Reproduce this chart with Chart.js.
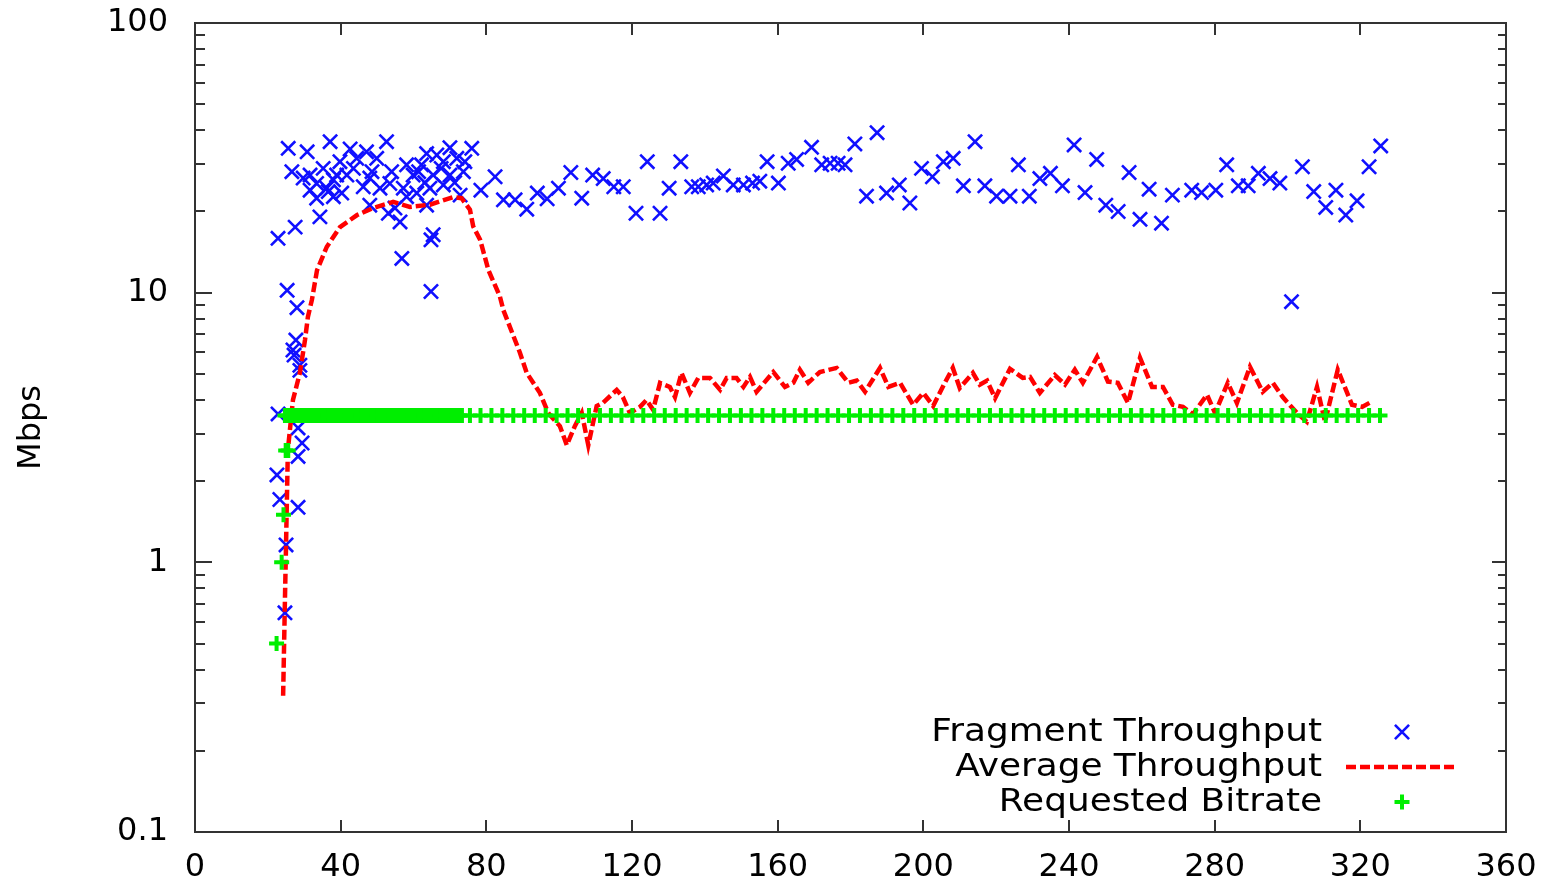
<!DOCTYPE html>
<html>
<head>
<meta charset="utf-8">
<script src="https://cdn.jsdelivr.net/npm/chart.js@4.4.1/dist/chart.umd.min.js"></script>
<style>
html,body{margin:0;padding:0;background:#fff;}
#wrap{width:1559px;height:882px;position:relative;}
</style>
</head>
<body>
<div id="wrap"><canvas id="c"></canvas></div>
<script>
// ---- Series labels ----
const seriesLabels = ['Fragment Throughput', 'Average Throughput', 'Requested Bitrate'];
const yAxisTitle = 'Mbps';

// ---- Fragment Throughput (time s, Mbps) ----
const fragTimes = [
  22.5, 22.8, 22.8, 23.3, 24.7, 25.0, 25.3, 25.6, 26.6, 26.9, 27.2, 27.5, 27.7, 28.0, 28.3, 28.3, 28.3, 28.8, 28.8, 29.4,
  29.7, 30.8, 31.6, 31.6, 33.4, 33.4, 34.3, 35.2, 36.2, 36.6, 37.1, 38.0, 38.0, 38.9, 39.8, 40.3, 41.7, 42.6, 43.5, 44.4,
  46.2, 47.1, 48.0, 48.6, 48.0, 49.9, 50.8, 52.6, 53.1, 53.5, 54.0, 54.9, 56.3, 56.8, 57.2, 58.1, 58.1, 59.9, 60.9, 61.4,
  62.2, 63.6, 63.6, 63.1, 64.5, 64.8, 64.8, 65.4, 65.4, 66.4, 68.2, 68.2, 67.6, 70.0, 70.0, 71.9, 71.3, 72.8, 73.7, 74.1, 76.0,
  78.5, 82.4, 84.7, 87.9, 91.1, 94.0, 96.7, 99.8, 103.2, 106.2, 109.2, 112.1, 115.0, 117.6, 121.1, 124.2, 127.7, 130.2,
  133.4, 136.4, 138.2, 140.5, 142.3, 145.1, 147.8, 150.6, 153.1, 155.1, 157.1, 160.2, 162.9, 165.2, 169.3, 172.1, 174.4,
  176.6, 178.5, 181.2, 184.4, 187.3, 189.9, 193.4, 196.3, 199.5, 202.5, 205.5, 208.2, 211.0, 214.2, 216.9, 220.1, 223.8,
  226.1, 229.1, 232.0, 234.9, 238.2, 241.4, 244.4, 247.6, 250.1, 253.5, 256.5, 259.5, 262.0, 265.4, 268.4, 273.7, 276.4,
  280.3, 283.3, 286.5, 289.2, 292.0, 295.2, 297.9, 301.1, 304.1, 307.2, 310.5, 313.3, 316.0, 319.1, 322.4, 325.6
];
const fragMbps = [
  2.11, 3.55, 15.9, 1.71, 0.65, 1.16, 10.2, 34.3, 28.1, 6.13, 5.87, 17.5, 6.67, 8.8, 3.15, 2.47, 1.6, 5.38, 5.15, 2.77,
  26.6, 33.3, 24.0, 27.3, 25.4, 22.4, 19.1, 28.9, 24.4, 23.7, 36.3, 26.2, 22.7, 27.3, 30.6, 23.4, 27.3, 34.1, 28.9, 31.5,
  24.7, 33.3, 26.6, 28.1, 21.1, 31.5, 24.4, 36.3, 19.7, 25.4, 28.1, 20.6, 18.3, 13.4, 24.4, 29.8, 22.7, 27.3, 23.4, 28.1,
  29.8, 32.8, 21.1, 25.6, 24.4, 15.7, 10.1, 27.3, 16.4, 32.4, 30.6, 25.1, 28.9, 34.5, 27.3, 31.5, 25.6, 23.0, 28.1, 30.6, 34.3,
  24.0, 26.9, 22.1, 22.1, 20.4, 23.4, 22.3, 24.4, 27.9, 22.4, 27.3, 26.5, 24.7, 24.7, 19.7, 30.6, 19.7, 24.4,
  30.6, 24.7, 24.7, 25.1, 25.5, 27.1, 25.1, 25.1, 25.5, 25.9, 30.6, 25.5, 30.2, 31.2, 34.6, 29.8, 30.2,
  30.2, 29.8, 35.6, 22.8, 39.2, 23.4, 25.1, 21.5, 28.9, 26.9, 30.6, 31.5, 24.9, 36.3, 24.9, 22.8, 22.8,
  29.8, 22.8, 26.5, 27.7, 24.9, 35.3, 23.5, 31.2, 21.1, 20.0, 27.9, 18.7, 24.2, 18.1, 23.0, 24.0, 23.5,
  24.0, 29.8, 24.9, 24.9, 27.7, 26.5, 25.5, 9.26, 29.3, 23.7, 20.7, 24.0, 19.4, 21.9, 29.3, 35.0
];

// ---- Average Throughput (time s, Mbps) ----
const avgTimes = [
  24.2, 24.7, 25.0, 25.5, 26.9, 28.8, 30.2, 31.0, 32.1, 33.5, 36.2, 39.8, 44.5, 48.9, 54.4, 59.0, 64.5, 70.8, 73.2, 75.5,
  76.4, 78.3, 80.6, 83.7, 84.7, 89.2, 91.1, 94.7, 97.0, 100.2, 102.1, 104.3, 106.2, 108.0, 110.3, 112.0, 115.8, 117.5,
  119.4, 122.2, 124.0, 125.8, 127.7, 130.4, 131.8, 133.6, 135.9, 138.2, 141.4, 144.2, 146.0, 148.7, 150.6, 152.4, 154.2,
  158.8, 162.0, 164.3, 166.1, 168.4, 171.6, 176.2, 179.4, 181.7, 184.0, 188.1, 190.4, 193.6, 197.2, 200.0, 202.7, 205.9,
  208.1, 210.0, 213.6, 215.5, 217.5, 219.7, 223.8, 227.3, 229.3, 232.0, 236.1, 238.9, 241.6, 243.8, 247.7, 250.7, 253.4,
  256.2, 259.5, 262.8, 265.8, 268.5, 271.3, 274.0, 277.9, 280.1, 283.6, 286.1, 289.7, 293.2, 296.0, 298.7, 302.6, 305.3,
  308.1, 310.3, 313.8, 317.7, 320.5, 323.2
];
const avgMbps = [
  0.32, 0.73, 1.16, 2.61, 4.0, 5.04, 6.67, 8.13, 9.4, 12.1, 14.8, 17.5, 19.4, 20.6, 21.7, 20.8, 21.2, 22.6, 22.4, 20.3,
  17.6, 15.7, 12.1, 9.7, 8.6, 6.0, 5.04, 4.25, 3.58, 3.2, 2.72, 3.2, 3.58, 2.72, 3.8, 3.9, 4.36, 4.1,
  3.58, 3.77, 4.0, 3.68, 4.63, 4.47, 4.1, 5.04, 4.25, 4.83, 4.83, 4.36, 4.83, 4.83, 4.47, 4.87, 4.29,
  5.08, 4.47, 4.63, 5.18, 4.63, 5.08, 5.26, 4.63, 4.72, 4.29, 5.26, 4.47, 4.63, 3.84, 4.25, 3.8, 4.63,
  5.26, 4.43, 5.04, 4.56, 4.72, 4.06, 5.22, 4.83, 4.87, 4.25, 4.95, 4.56, 5.18, 4.63, 5.78, 4.68, 4.63,
  3.9, 5.74, 4.47, 4.47, 3.84, 3.77, 3.54, 4.18, 3.58, 4.63, 3.9, 5.31, 4.29, 4.63, 4.1, 3.58, 3.32,
  4.47, 3.32, 5.18, 3.84, 3.77, 3.95
];

// ---- Requested Bitrate (time s, Mbps) ----
const rateTimes = [
  22.4, 23.8, 24.3, 24.9, 25.6,
  24.7, 25.4, 26.1, 26.9, 27.6, 28.4, 29.1, 29.9, 30.6, 31.4, 32.1, 32.9, 33.6, 34.4, 35.1, 35.9, 36.6, 37.4, 38.1, 38.9,
  39.6, 40.4, 41.1, 41.9, 42.6, 43.4, 44.1, 44.9, 45.6, 46.4, 47.1, 47.9, 48.6, 49.4, 50.1, 50.9, 51.6, 52.4, 53.1, 53.9,
  54.6, 55.4, 56.1, 56.9, 57.6, 58.4, 59.1, 59.9, 60.6, 61.4, 62.1, 62.9, 63.6, 64.4, 65.1, 65.9, 66.6, 67.4, 68.1, 68.9,
  69.6, 70.4, 71.1, 71.9, 72.6, 73.3,
  75.5, 78.4, 81.4, 84.4, 87.4, 90.4, 93.3, 96.3, 99.3, 102.3, 105.2, 108.2, 111.2, 114.2, 117.1, 120.1, 123.1, 126.1,
  129.0, 132.0, 135.0, 138.0, 140.9, 143.9, 146.9, 149.9, 152.8, 155.8, 158.8, 161.8, 164.7, 167.7, 170.7, 173.7, 176.6,
  179.6, 182.6, 185.6, 188.5, 191.5, 194.5, 197.5, 200.4, 203.4, 206.4, 209.4, 212.3, 215.3, 218.3, 221.3, 224.2, 227.2,
  230.2, 233.2, 236.1, 239.1, 242.1, 245.1, 248.0, 251.0, 254.0, 257.0, 259.9, 262.9, 265.9, 268.9, 271.8, 274.8, 277.8,
  280.8, 283.7, 286.7, 289.7, 292.7, 295.6, 298.6, 301.6, 304.6, 307.5, 310.5, 313.5, 316.5, 319.4, 322.4, 325.4
];
const rateMbps = [
  0.5, 1.0, 1.5, 2.6, 2.6,
  3.5, 3.5, 3.5, 3.5, 3.5, 3.5, 3.5, 3.5, 3.5, 3.5, 3.5, 3.5, 3.5, 3.5, 3.5, 3.5, 3.5, 3.5, 3.5, 3.5,
  3.5, 3.5, 3.5, 3.5, 3.5, 3.5, 3.5, 3.5, 3.5, 3.5, 3.5, 3.5, 3.5, 3.5, 3.5, 3.5, 3.5, 3.5, 3.5, 3.5,
  3.5, 3.5, 3.5, 3.5, 3.5, 3.5, 3.5, 3.5, 3.5, 3.5, 3.5, 3.5, 3.5, 3.5, 3.5, 3.5, 3.5, 3.5, 3.5, 3.5,
  3.5, 3.5, 3.5, 3.5, 3.5, 3.5,
  3.5, 3.5, 3.5, 3.5, 3.5, 3.5, 3.5, 3.5, 3.5, 3.5, 3.5, 3.5, 3.5, 3.5, 3.5, 3.5, 3.5, 3.5,
  3.5, 3.5, 3.5, 3.5, 3.5, 3.5, 3.5, 3.5, 3.5, 3.5, 3.5, 3.5, 3.5, 3.5, 3.5, 3.5, 3.5,
  3.5, 3.5, 3.5, 3.5, 3.5, 3.5, 3.5, 3.5, 3.5, 3.5, 3.5, 3.5, 3.5, 3.5, 3.5, 3.5, 3.5,
  3.5, 3.5, 3.5, 3.5, 3.5, 3.5, 3.5, 3.5, 3.5, 3.5, 3.5, 3.5, 3.5, 3.5, 3.5, 3.5, 3.5,
  3.5, 3.5, 3.5, 3.5, 3.5, 3.5, 3.5, 3.5, 3.5, 3.5, 3.5, 3.5, 3.5, 3.5, 3.5, 3.5
];

// ---- Axis ticks ----
const xTickValues = [0, 40, 80, 120, 160, 200, 240, 280, 320, 360];
const yTickValues = [0.1, 1, 10, 100];
const yTickLabels = ['0.1', '1', '10', '100'];
const yMinorTickValues = [0.2, 0.3, 0.4, 0.5, 0.6, 0.7, 0.8, 0.9, 2, 3, 4, 5, 6, 7, 8, 9, 20, 30, 40, 50, 60, 70, 80, 90];

function pairs(xs, ys) { return xs.map((x, i) => ({ x: x, y: ys[i] })); }

const FONT_FAMILY = '"DejaVu Sans", "Liberation Sans", sans-serif';
const FRAME_COLOR = '#333333';

// gnuplot-style frame: border box plus inward ticks on all four sides
const framePlugin = {
  id: 'gnuplotFrame',
  beforeDatasetsDraw(chart) {
    const { ctx, chartArea: a, scales } = chart;
    const xs = scales.x, ys = scales.y;
    ctx.save();
    ctx.strokeStyle = FRAME_COLOR;
    ctx.lineWidth = 2;
    ctx.beginPath();
    xTickValues.forEach(v => {
      const px = Math.round(xs.getPixelForValue(v));
      if (px <= a.left + 2 || px >= a.right - 2) return;
      ctx.moveTo(px, a.bottom); ctx.lineTo(px, a.bottom - 12);
      ctx.moveTo(px, a.top); ctx.lineTo(px, a.top + 12);
    });
    yTickValues.forEach(v => {
      const py = Math.round(ys.getPixelForValue(v));
      ctx.moveTo(a.left, py); ctx.lineTo(a.left + 17, py);
      ctx.moveTo(a.right, py); ctx.lineTo(a.right - 14, py);
    });
    yMinorTickValues.forEach(v => {
      const py = Math.round(ys.getPixelForValue(v));
      ctx.moveTo(a.left, py); ctx.lineTo(a.left + 10, py);
      ctx.moveTo(a.right, py); ctx.lineTo(a.right - 8, py);
    });
    ctx.stroke();
    ctx.strokeRect(a.left, a.top, a.right - a.left, a.bottom - a.top);
    ctx.restore();
  }
};

// gnuplot-style key: right-aligned text, sample to its right
const keyPlugin = {
  id: 'gnuplotKey',
  afterDraw(chart) {
    const { ctx, chartArea: a } = chart;
    const ds = chart.data.datasets;
    const textRight = a.right - 184;
    const sampleL = a.right - 160, sampleR = a.right - 48;
    const sampleC = (sampleL + sampleR) / 2;
    const rowY = [a.bottom - 100, a.bottom - 65, a.bottom - 30];
    ctx.save();
    ctx.font = '32px ' + FONT_FAMILY;
    ctx.fillStyle = '#000';
    ctx.textAlign = 'right';
    ctx.textBaseline = 'middle';
    ds.forEach((d, i) => {
      const y = rowY[i];
      ctx.save();
      ctx.translate(textRight, y + 1);
      ctx.scale(1.12, 1);
      ctx.fillText(d.label, 0, 0);
      ctx.restore();
      if (d.showLine) {
        ctx.save();
        ctx.strokeStyle = d.borderColor;
        ctx.lineWidth = d.borderWidth;
        ctx.setLineDash(d.borderDash);
        ctx.beginPath();
        ctx.moveTo(sampleL, y); ctx.lineTo(sampleR, y);
        ctx.stroke();
        ctx.restore();
      } else {
        ctx.save();
        ctx.strokeStyle = d.borderColor;
        ctx.fillStyle = d.borderColor;
        ctx.lineWidth = d.pointBorderWidth;
        Chart.helpers.drawPoint(ctx, { pointStyle: d.pointStyle, radius: d.pointRadius, borderWidth: d.pointBorderWidth, rotation: 0 }, sampleC, y);
        ctx.restore();
      }
    });
    ctx.restore();
  }
};

new Chart(document.getElementById('c'), {
  type: 'scatter',
  data: {
    datasets: [
      {
        label: seriesLabels[0],
        data: pairs(fragTimes, fragMbps),
        showLine: false,
        pointStyle: 'crossRot',
        pointRadius: 10,
        pointBorderWidth: 2.6,
        borderColor: '#1010ff',
        backgroundColor: '#1010ff',
        order: 3
      },
      {
        label: seriesLabels[1],
        data: pairs(avgTimes, avgMbps),
        showLine: true,
        borderColor: '#ff0000',
        backgroundColor: '#ff0000',
        borderWidth: 4.5,
        borderDash: [10, 4],
        pointRadius: 0,
        fill: false,
        tension: 0,
        order: 2
      },
      {
        label: seriesLabels[2],
        data: pairs(rateTimes, rateMbps),
        showLine: false,
        pointStyle: 'cross',
        pointRadius: 7.5,
        pointBorderWidth: 4,
        borderColor: '#00ee00',
        backgroundColor: '#00ee00',
        order: 1
      }
    ]
  },
  options: {
    responsive: true,
    maintainAspectRatio: false,
    animation: false,
    events: [],
    layout: { padding: { top: 23, right: 53, left: 0, bottom: 0 } },
    plugins: { legend: { display: false }, tooltip: { enabled: false } },
    scales: {
      x: {
        type: 'linear',
        min: 0,
        max: 360,
        afterBuildTicks(s) { s.ticks = xTickValues.map(v => ({ value: v })); },
        afterFit(s) { s.height = 50; },
        grid: { display: false, drawTicks: false },
        border: { display: false },
        ticks: {
          color: '#000',
          padding: 16,
          maxRotation: 0,
          autoSkip: false,
          font: { family: FONT_FAMILY, size: 32 },
          callback: (v) => String(v)
        }
      },
      y: {
        type: 'logarithmic',
        min: 0.1,
        max: 100,
        afterBuildTicks(s) { s.ticks = yTickValues.map(v => ({ value: v })); },
        afterFit(s) { s.width = 195; s.paddingTop = 0; s.paddingBottom = 0; },
        grid: { display: false, drawTicks: false },
        border: { display: false },
        title: {
          display: true,
          text: yAxisTitle,
          color: '#000',
          font: { family: FONT_FAMILY, size: 32 },
          padding: { top: 12, bottom: 0 }
        },
        ticks: {
          color: '#000',
          padding: 27,
          autoSkip: false,
          font: { family: FONT_FAMILY, size: 32 },
          callback: (v, i) => yTickLabels[i]
        }
      }
    }
  },
  plugins: [framePlugin, keyPlugin]
});
</script>
</body>
</html>
